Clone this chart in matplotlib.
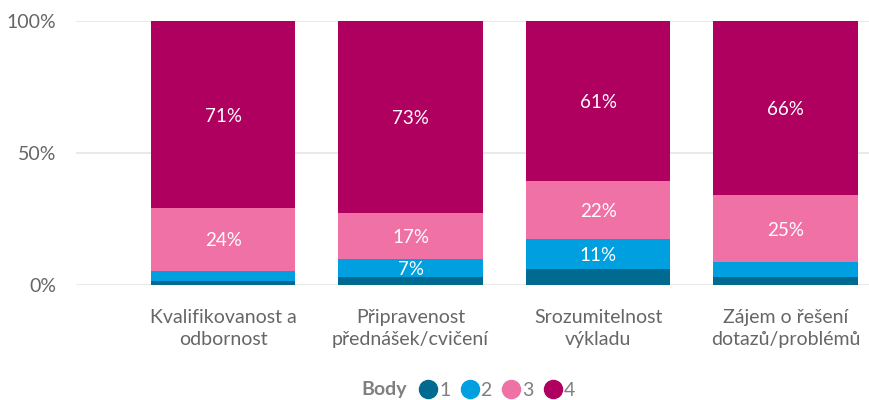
import numpy as np
import matplotlib.pyplot as plt
from matplotlib.lines import Line2D

plt.rcParams['font.family'] = ['Lato', 'DejaVu Sans']

categories = ["Kvalifikovanost a\nodbornost", "Připravenost\npřednášek/cvičení",
              "Srozumitelnost\nvýkladu", "Zájem o řešení\ndotazů/problémů"]
levels = ["1", "2", "3", "4"]
# share of answers per level (in %), one list per level
body1 = [1.6, 3.2, 6.2, 3.2]
body2 = [3.8, 6.8, 11.4, 5.4]
body3 = [23.8, 17.4, 21.8, 25.4]
body4 = [70.8, 72.6, 60.6, 66.0]
colors = ["#006a91", "#009fdf", "#ef71a6", "#b0005f"]

series = [body1, body2, body3, body4]
x = np.arange(len(categories))

fig = plt.figure(figsize=(8.7, 4.0), dpi=100)
ax = fig.add_axes([0.0874, 0.2875, 0.9126, 0.66])

bottom = np.zeros(len(categories))
for vals, col in zip(series, colors):
    vals = np.array(vals)
    ax.bar(x, vals, width=0.77, bottom=bottom, color=col, zorder=2)
    for xi, b, v in zip(x, bottom, vals):
        if v >= 6.5:
            ax.text(xi, b + v / 2 - 0.6, "%d%%" % round(v), ha="center", va="center",
                    color="white", fontsize=13.5)
    bottom += vals

ax.set_ylim(0, 100)
ax.set_xlim(-0.784, 3.45)
ax.set_yticks([0, 50, 100])
ax.set_yticklabels(["0%", "50%", "100%"])
ax.yaxis.grid(True, color="#e5e5e5", lw=1.2, zorder=0)
ax.set_xticks(x)
ax.set_xticklabels(categories, linespacing=1.35)
ax.tick_params(axis="both", length=0, colors="#666666", labelsize=14)
ax.tick_params(axis="x", pad=17)
ax.tick_params(axis="y", pad=14)
for s in ax.spines.values():
    s.set_visible(False)

fig.text(407 / 870, 1 - 390 / 400, "Body", ha="right", va="center",
         fontsize=14, fontweight="bold", color="#7f7f7f")
handles = [Line2D([], [], marker="o", ls="", markersize=13, color=c) for c in colors]
leg = fig.legend(handles, levels, loc="center left",
                 bbox_to_anchor=(411 / 870, 1 - 390 / 400), ncol=4, frameon=False,
                 handletextpad=0.05, columnspacing=0.5, handlelength=1.0,
                 fontsize=14, borderaxespad=0.0)
for t in leg.get_texts():
    t.set_color("#7f7f7f")

fig.savefig("out.png", dpi=100)
